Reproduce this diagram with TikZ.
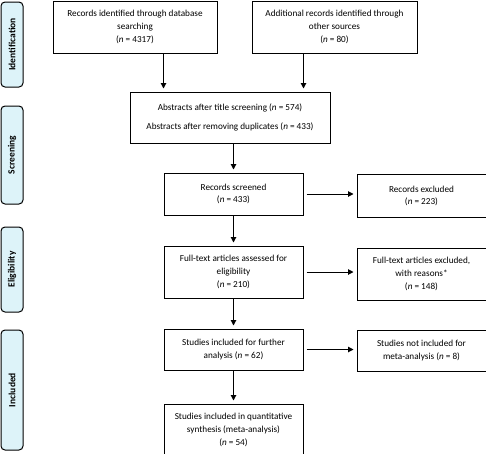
\documentclass[tikz,border=0pt]{standalone}
\usepackage{fontspec}
\setmainfont{Carlito}
\usepackage{xcolor}
\usetikzlibrary{arrows.meta}
\usetikzlibrary{positioning}
\definecolor{phasefill}{RGB}{221,243,249}
\tikzstyle{flowarrow} = [-{Triangle[length=5.5pt,width=5.5pt]}, line width=1pt, shorten >=3pt]

\begin{document}
\begin{tikzpicture}[x=1pt, y=-1pt]

\tikzstyle{mybox} = [rectangle, draw=black, fill=white, line width=1pt,
align=center, inner sep=2pt, font=\fontsize{9.2}{12.7}\selectfont]
\tikzstyle{myphase} = [rectangle, rounded corners=4pt, draw=black, fill=phasefill,
line width=1pt, minimum height=22pt, font=\fontsize{9.5}{10}\selectfont\bfseries]

\useasboundingbox (0,0) rectangle (486,453);

% phases
\node[myphase, minimum width=85pt, rotate=90] (ident) at (12,44.5) {Identification};
\node[myphase, minimum width=98pt, rotate=90] (screen) at (12,155) {Screening};
\node[myphase, minimum width=85pt, rotate=90] (elig) at (12,269.5) {Eligibility};
\node[myphase, minimum width=120pt, rotate=90] (incl) at (12,390) {Included};

% identification
\node[mybox, minimum width=164pt, minimum height=52pt] (dbrec) at (135,27)
  {Records identified through database\\searching\\(\textit{n} = 4317)};
\node[mybox, minimum width=165pt, minimum height=52pt] (otherrec) at (334.5,27)
  {Additional records identified through\\other sources\\(\textit{n} = 80)};

\node[mybox, minimum width=200pt, minimum height=51pt] (abstr) at (230,117.5)
  {Abstracts after title screening (\textit{n} = 574)\\[6pt]
   Abstracts after removing duplicates (\textit{n} = 433)};

% main column
\node[mybox, minimum width=139pt, minimum height=42pt, below=29pt of abstr, xshift=3.5pt] (screened)
  {Records screened\\(\textit{n} = 433)};
\node[mybox, minimum width=139pt, minimum height=52pt, below=30pt of screened] (fulltext)
  {Full-text articles assessed for\\eligibility\\(\textit{n} = 210)};
\node[mybox, minimum width=139pt, minimum height=41pt, below=30pt of fulltext] (further)
  {Studies included for further\\analysis (\textit{n} = 62)};
\node[mybox, minimum width=139pt, minimum height=52pt, below=33pt of further] (quant)
  {Studies included in quantitative\\synthesis (meta-analysis)\\(\textit{n} = 54)};

% exclusions
\node[mybox, minimum width=129pt, minimum height=43pt, right=53pt of screened, yshift=-2pt] (recexcl)
  {Records excluded\\(\textit{n} = 223)};
\node[mybox, minimum width=129pt, minimum height=52pt, right=53pt of fulltext, yshift=-2pt] (ftexcl)
  {Full-text articles excluded,\\with reasons*\\(\textit{n} = 148)};
\node[mybox, minimum width=129pt, minimum height=41pt, right=53pt of further, yshift=-1pt] (notmeta)
  {Studies not included for\\meta-analysis (\textit{n} = 8)};

\coordinate (in1) at ([xshift=34pt]abstr.north west);
\coordinate (in2) at ([xshift=-27pt]abstr.north east);

\draw[flowarrow] (dbrec.south -| in1) -- (in1);
\draw[flowarrow] (otherrec.south -| in2) -- (in2);
\draw[flowarrow] (abstr.south -| screened.north) -- (screened.north);
\draw[flowarrow] (screened) -- (fulltext);
\draw[flowarrow] (fulltext) -- (further);
\draw[flowarrow] (further) -- (quant);

\draw[flowarrow, shorten <=3pt] (screened.east) -- (screened.east -| recexcl.west);
\draw[flowarrow, shorten <=3pt] (fulltext.east) -- (fulltext.east -| ftexcl.west);
\draw[flowarrow, shorten <=3pt] (further.east) -- (further.east -| notmeta.west);

\end{tikzpicture}
\end{document}
